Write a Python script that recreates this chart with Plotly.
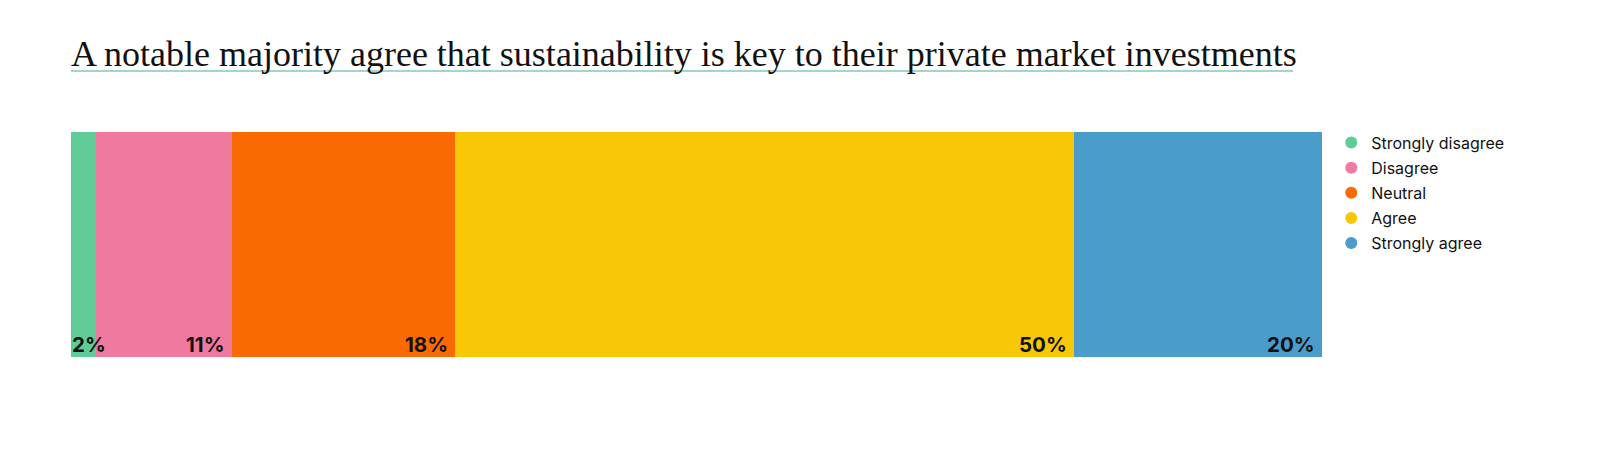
import plotly.graph_objects as go

categories = ["Strongly disagree", "Disagree", "Neutral", "Agree", "Strongly agree"]
values = [2, 11, 18, 50, 20]
colors = ["#5fcb96", "#f07a9f", "#fa6a04", "#f8c807", "#4a9ccb"]

title = "A notable majority agree that sustainability is key to their private market investments"

fig = go.Figure()

for cat, val, col in zip(categories, values, colors):
    fig.add_trace(go.Bar(
        x=[val], y=["all"], orientation="h", name=cat,
        marker=dict(color=col, line=dict(width=0)),
        showlegend=False, hoverinfo="name+x",
    ))
    # dummy trace so the legend gets round markers
    fig.add_trace(go.Scatter(
        x=[None], y=[None], mode="markers", name=cat, legendgroup=cat,
        marker=dict(color=col, size=12, symbol="circle"),
    ))

# percentage labels, bottom right of each segment (left for tiny ones)
cum = 0
for val in values:
    start = cum
    cum += val
    small = val < 5
    fig.add_annotation(
        x=start if small else cum, y=0, xref="x", yref="paper",
        text="<b>%d%%</b>" % val,
        xanchor="left" if small else "right", yanchor="bottom",
        showarrow=False, xshift=-1 if small else -5, yshift=-2,
        font=dict(family="Inter, Roboto, sans-serif", size=20.5, color="#111"),
    )

fig.update_layout(
    barmode="stack",
    bargap=0,
    width=1600, height=450,
    margin=dict(l=63, r=286, t=124, b=101),
    plot_bgcolor="white", paper_bgcolor="white",
    title=dict(
        text=title, x=0, xref="paper", xanchor="left",
        y=1 - 45 / 450, yref="container", yanchor="middle",
        font=dict(family="Liberation Serif, serif", size=36, color="#111"),
    ),
    legend=dict(
        x=1.0074, y=1.028, xanchor="left", yanchor="top",
        font=dict(family="Inter, Roboto, sans-serif", size=16, color="#111"),
        traceorder="grouped", itemsizing="constant", tracegroupgap=1.3,
    ),
    shapes=[dict(
        type="line", xref="paper", yref="paper",
        x0=0, x1=0.977, y0=1.271, y1=1.271,
        line=dict(color="#a3d6ca", width=2),
    )],
)

fig.update_xaxes(range=[0, 101], visible=False, fixedrange=True)
fig.update_yaxes(visible=False, fixedrange=True)

fig.write_html("out.html")
